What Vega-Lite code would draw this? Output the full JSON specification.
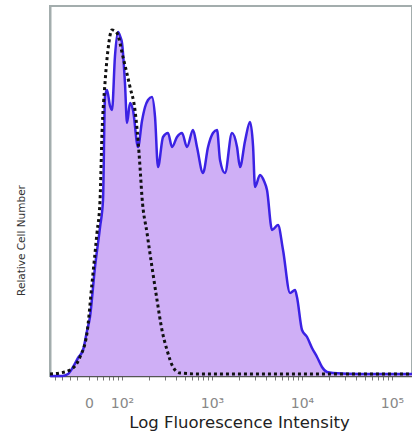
{
  "$schema": "https://vega.github.io/schema/vega-lite/v6.json",
  "width": 362,
  "height": 370,
  "autosize": {"type": "none"},
  "padding": {"left": 50, "top": 6, "right": 0, "bottom": 62},
  "background": "white",
  "config": {
    "view": {"stroke": "#a3adad", "strokeWidth": 2},
    "font": "DejaVu Sans"
  },
  "datasets": {
    "stained": [
      {"x": 1.2, "count": 0}, {"x": 1.333, "count": 0}, {"x": 1.4, "count": 2}, {"x": 1.456, "count": 9},
      {"x": 1.511, "count": 18}, {"x": 1.567, "count": 26}, {"x": 1.611, "count": 45}, {"x": 1.644, "count": 59},
      {"x": 1.7, "count": 109}, {"x": 1.756, "count": 149}, {"x": 1.789, "count": 176}, {"x": 1.811, "count": 279},
      {"x": 1.833, "count": 286}, {"x": 1.867, "count": 270}, {"x": 1.889, "count": 266}, {"x": 1.922, "count": 320},
      {"x": 1.956, "count": 344}, {"x": 1.978, "count": 340}, {"x": 2.0, "count": 333}, {"x": 2.033, "count": 293},
      {"x": 2.056, "count": 253}, {"x": 2.089, "count": 273}, {"x": 2.122, "count": 266}, {"x": 2.178, "count": 229},
      {"x": 2.222, "count": 255}, {"x": 2.256, "count": 269}, {"x": 2.289, "count": 276}, {"x": 2.333, "count": 279},
      {"x": 2.367, "count": 259}, {"x": 2.4, "count": 209}, {"x": 2.456, "count": 239}, {"x": 2.511, "count": 243},
      {"x": 2.556, "count": 229}, {"x": 2.611, "count": 239}, {"x": 2.667, "count": 243}, {"x": 2.722, "count": 229},
      {"x": 2.789, "count": 246}, {"x": 2.833, "count": 229}, {"x": 2.9, "count": 203}, {"x": 2.956, "count": 229},
      {"x": 3.011, "count": 243}, {"x": 3.056, "count": 246}, {"x": 3.089, "count": 216}, {"x": 3.144, "count": 203},
      {"x": 3.222, "count": 243}, {"x": 3.278, "count": 229}, {"x": 3.311, "count": 209}, {"x": 3.367, "count": 235},
      {"x": 3.422, "count": 254}, {"x": 3.456, "count": 230}, {"x": 3.478, "count": 189}, {"x": 3.533, "count": 201},
      {"x": 3.578, "count": 195}, {"x": 3.611, "count": 186}, {"x": 3.667, "count": 146}, {"x": 3.733, "count": 151},
      {"x": 3.789, "count": 126}, {"x": 3.867, "count": 83}, {"x": 3.922, "count": 86}, {"x": 3.944, "count": 79},
      {"x": 4.0, "count": 46}, {"x": 4.056, "count": 39}, {"x": 4.111, "count": 28}, {"x": 4.167, "count": 19},
      {"x": 4.222, "count": 9}, {"x": 4.278, "count": 4}, {"x": 4.344, "count": 3}, {"x": 4.644, "count": 2},
      {"x": 5.222, "count": 2}
    ],
    "control": [
      {"x": 1.2, "count": 2}, {"x": 1.311, "count": 3}, {"x": 1.422, "count": 6}, {"x": 1.533, "count": 19},
      {"x": 1.611, "count": 43}, {"x": 1.667, "count": 93}, {"x": 1.722, "count": 143}, {"x": 1.756, "count": 176},
      {"x": 1.778, "count": 243}, {"x": 1.811, "count": 293}, {"x": 1.844, "count": 326}, {"x": 1.889, "count": 346},
      {"x": 1.944, "count": 343}, {"x": 2.011, "count": 319}, {"x": 2.089, "count": 289}, {"x": 2.144, "count": 266},
      {"x": 2.178, "count": 236}, {"x": 2.2, "count": 209}, {"x": 2.222, "count": 179}, {"x": 2.278, "count": 143},
      {"x": 2.333, "count": 109}, {"x": 2.389, "count": 76}, {"x": 2.444, "count": 46}, {"x": 2.5, "count": 26},
      {"x": 2.567, "count": 9}, {"x": 2.644, "count": 3}, {"x": 2.867, "count": 2}, {"x": 5.222, "count": 2}
    ]
  },
  "encoding": {
    "x": {
      "field": "x", "type": "quantitative",
      "scale": {"domain": [1.2, 5.222], "nice": false, "zero": false},
      "axis": {
        "title": "Log Fluorescence Intensity",
        "titleFontSize": 16.5, "titleFontWeight": "normal", "titleColor": "#222222", "titlePadding": 4,
        "titleX": 189,
        "values": [1.25, 1.33, 1.42, 1.5, 1.633, 1.72, 1.79, 1.85, 1.9, 1.95, 2, 2.301, 2.477, 2.602, 2.699, 2.778, 2.845, 2.903, 2.954, 3, 3.301, 3.477, 3.602, 3.699, 3.778, 3.845, 3.903, 3.954, 4, 4.301, 4.477, 4.602, 4.699, 4.778, 4.845, 4.903, 4.954, 5],
        "labelExpr": "abs(datum.value-1.633)<0.01 ? '0' : datum.value==2 ? '10²' : datum.value==3 ? '10³' : datum.value==4 ? '10⁴' : datum.value==5 ? '10⁵' : ''",
        "labelOverlap": false, "labelFlush": false,
        "labelFontSize": 14, "labelColor": "#888888", "labelPadding": 16,
        "tickSize": 4, "tickColor": "#777777", "domainColor": "#555555", "domainWidth": 1.5,
        "grid": false
      }
    },
    "y": {
      "field": "count", "type": "quantitative",
      "scale": {"domain": [0, 370], "nice": false},
      "axis": {
        "title": "Relative Cell Number",
        "titleFontSize": 10.5, "titleFontWeight": "normal", "titleColor": "#333333",
        "titleX": -24, "titleY": 234,
        "labels": false, "ticks": false, "grid": false,
        "domainColor": "#a3adad", "domainWidth": 2
      }
    }
  },
  "layer": [
    {"data": {"name": "stained"}, "mark": {"type": "area", "color": "#cfaff6", "opacity": 1, "interpolate": "monotone"}},
    {"data": {"name": "stained"}, "mark": {"type": "line", "color": "#3b22e4", "strokeWidth": 2.5, "interpolate": "monotone", "strokeJoin": "round"}},
    {"data": {"name": "control"}, "mark": {"type": "line", "color": "#111111", "strokeWidth": 3, "strokeDash": [3, 3], "interpolate": "monotone"}}
  ]
}
